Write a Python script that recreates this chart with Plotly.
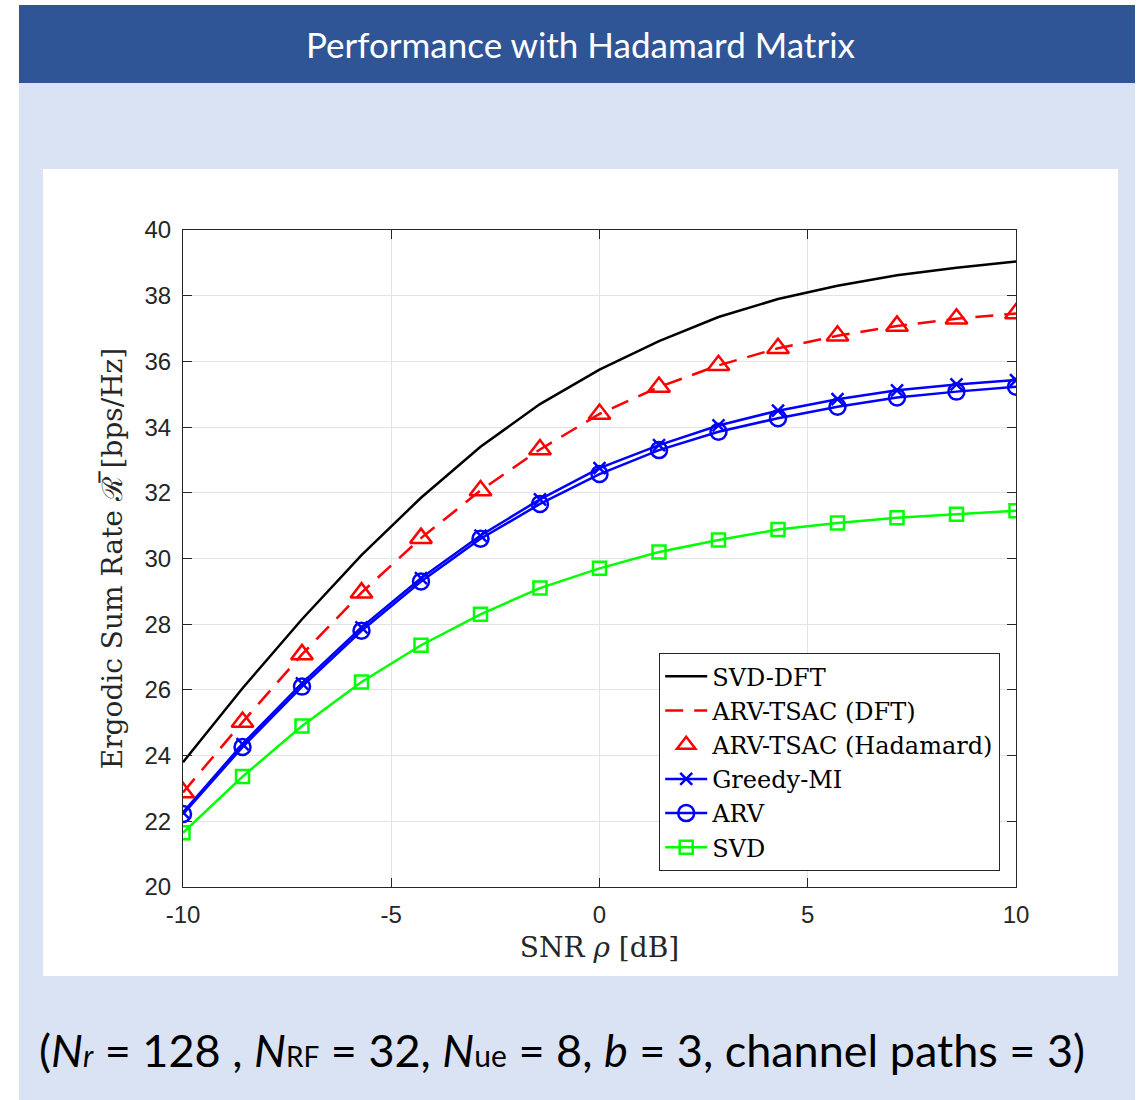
import plotly.graph_objects as go

# ---------------- data ----------------
snr_db = [-10, -8.571, -7.143, -5.714, -4.286, -2.857, -1.429, 0,
          1.429, 2.857, 4.286, 5.714, 7.143, 8.571, 10]

svd_dft = [23.8, 26.05, 28.15, 30.1, 31.85, 33.4, 34.7, 35.75,
           36.62, 37.35, 37.9, 38.3, 38.62, 38.85, 39.04]
arv_tsac_dft = [22.88, 25.02, 27.08, 28.96, 30.62, 32.07, 33.32, 34.4,
                35.22, 35.88, 36.4, 36.78, 37.08, 37.3, 37.46]
arv_tsac_had = [22.88, 25.02, 27.08, 28.96, 30.62, 32.07, 33.32, 34.4,
                35.22, 35.88, 36.4, 36.78, 37.08, 37.3, 37.46]
greedy_mi = [22.27, 24.35, 26.2, 27.9, 29.4, 30.7, 31.8, 32.75,
             33.45, 34.05, 34.5, 34.85, 35.12, 35.3, 35.43]
arv = [22.22, 24.26, 26.1, 27.8, 29.3, 30.6, 31.66, 32.57,
       33.3, 33.86, 34.27, 34.62, 34.9, 35.08, 35.23]
svd = [21.65, 23.36, 24.9, 26.24, 27.36, 28.3, 29.1, 29.7,
       30.2, 30.56, 30.88, 31.08, 31.24, 31.35, 31.45]

x_ticks = [-10, -5, 0, 5, 10]
y_ticks = [20, 22, 24, 26, 28, 30, 32, 34, 36, 38, 40]

W, H = 1143, 1100
PL, PR, PT, PB = 183, 1016, 230, 887   # plot-area pixel box


def px(x):
    return (x - PL) / (PR - PL)


def py(y):
    return (PB - y) / (PB - PT)


fig = go.Figure()

fig.add_trace(go.Scatter(x=snr_db, y=svd_dft, mode="lines", name="SVD-DFT",
                         line=dict(color="#000000", width=2.5)))
fig.add_trace(go.Scatter(x=snr_db, y=arv_tsac_dft, mode="lines", name="ARV-TSAC (DFT)",
                         line=dict(color="#ff0000", width=2.5, dash="18px,11px")))
fig.add_trace(go.Scatter(x=snr_db, y=arv_tsac_had, mode="markers", name="ARV-TSAC (Hadamard)",
                         marker=dict(symbol="triangle-up-open", size=19, color="#ff0000",
                                     line=dict(width=2.5, color="#ff0000"))))
fig.add_trace(go.Scatter(x=snr_db, y=greedy_mi, mode="lines+markers", name="Greedy-MI",
                         line=dict(color="#0000ff", width=2.5),
                         marker=dict(symbol="x-thin-open", size=12, color="#0000ff",
                                     line=dict(width=2.5, color="#0000ff"))))
fig.add_trace(go.Scatter(x=snr_db, y=arv, mode="lines+markers", name="ARV",
                         line=dict(color="#0000ff", width=2.5),
                         marker=dict(symbol="circle-open", size=16, color="#0000ff",
                                     line=dict(width=2.5, color="#0000ff"))))
fig.add_trace(go.Scatter(x=snr_db, y=svd, mode="lines+markers", name="SVD",
                         line=dict(color="#00ff00", width=2.5),
                         marker=dict(symbol="square-open", size=13, color="#00ff00",
                                     line=dict(width=2.5, color="#00ff00"))))

axis_common = dict(showline=True, linecolor="#262626", linewidth=1.2, mirror="ticks",
                   ticks="inside", ticklen=9, tickwidth=1.2, tickcolor="#262626",
                   showgrid=True, gridcolor="#e3e3e3", gridwidth=1.2, zeroline=False,
                   ticklabelstandoff=6,
                   tickfont=dict(family="Liberation Sans, Arial", size=24, color="#262626"))

title_font = dict(family="DejaVu Serif, serif", size=28, color="#262626")

fig.update_xaxes(range=[-10, 10], tickvals=x_ticks, ticktext=[str(v) for v in x_ticks],
                 title=dict(text="SNR <i>ρ</i> [dB]", standoff=10, font=title_font),
                 **axis_common)
fig.update_yaxes(range=[20, 40], tickvals=y_ticks, ticktext=[str(v) for v in y_ticks],
                 title=dict(text="Ergodic Sum Rate ℛ\u0305 [bps/Hz]", standoff=13, font=title_font),
                 **axis_common)

shapes = [
    # light blue page
    dict(type="rect", xref="paper", yref="paper", x0=px(19), x1=px(1135), y0=py(1100), y1=py(83),
         fillcolor="#dae3f3", line=dict(width=0), layer="below"),
    # dark blue title band
    dict(type="rect", xref="paper", yref="paper", x0=px(19), x1=px(1135), y0=py(83), y1=py(5),
         fillcolor="#2f5597", line=dict(width=0), layer="below"),
    # white chart panel
    dict(type="rect", xref="paper", yref="paper", x0=px(43), x1=px(1118), y0=py(976), y1=py(169),
         fillcolor="#ffffff", line=dict(width=0), layer="below"),
]

annotations = [
    dict(text="Performance with Hadamard Matrix", xref="paper", yref="paper",
         x=px(581), y=py(44), xanchor="center", yanchor="middle", showarrow=False,
         font=dict(family="Lato, Open Sans", size=35, color="#ffffff")),
    dict(text="(<i>N<span style='font-size:30px'>r</span></i> = 128 , "
              "<i>N</i><span style='font-size:28px'>RF</span> = 32, "
              "<i>N</i><span style='font-size:30px'>ue</span> = 8, "
              "<i>b</i> = 3, channel paths = 3)",
         xref="paper", yref="paper", x=px(562), y=py(1050), xanchor="center", yanchor="middle",
         showarrow=False, font=dict(family="Lato, Open Sans", size=45, color="#000000")),
]

fig.update_layout(
    width=W, height=H,
    margin=dict(l=PL, r=W - PR, t=PT, b=H - PB, pad=0),
    paper_bgcolor="#ffffff", plot_bgcolor="#ffffff",
    shapes=shapes, annotations=annotations,
    showlegend=True,
    legend=dict(x=px(1000), y=py(871), xanchor="right", yanchor="bottom",
                bgcolor="#ffffff", bordercolor="#262626", borderwidth=1.2,
                font=dict(family="DejaVu Serif, serif", size=24, color="#000000"),
                itemwidth=42, tracegroupgap=0),
)

fig.write_html("out.html")
